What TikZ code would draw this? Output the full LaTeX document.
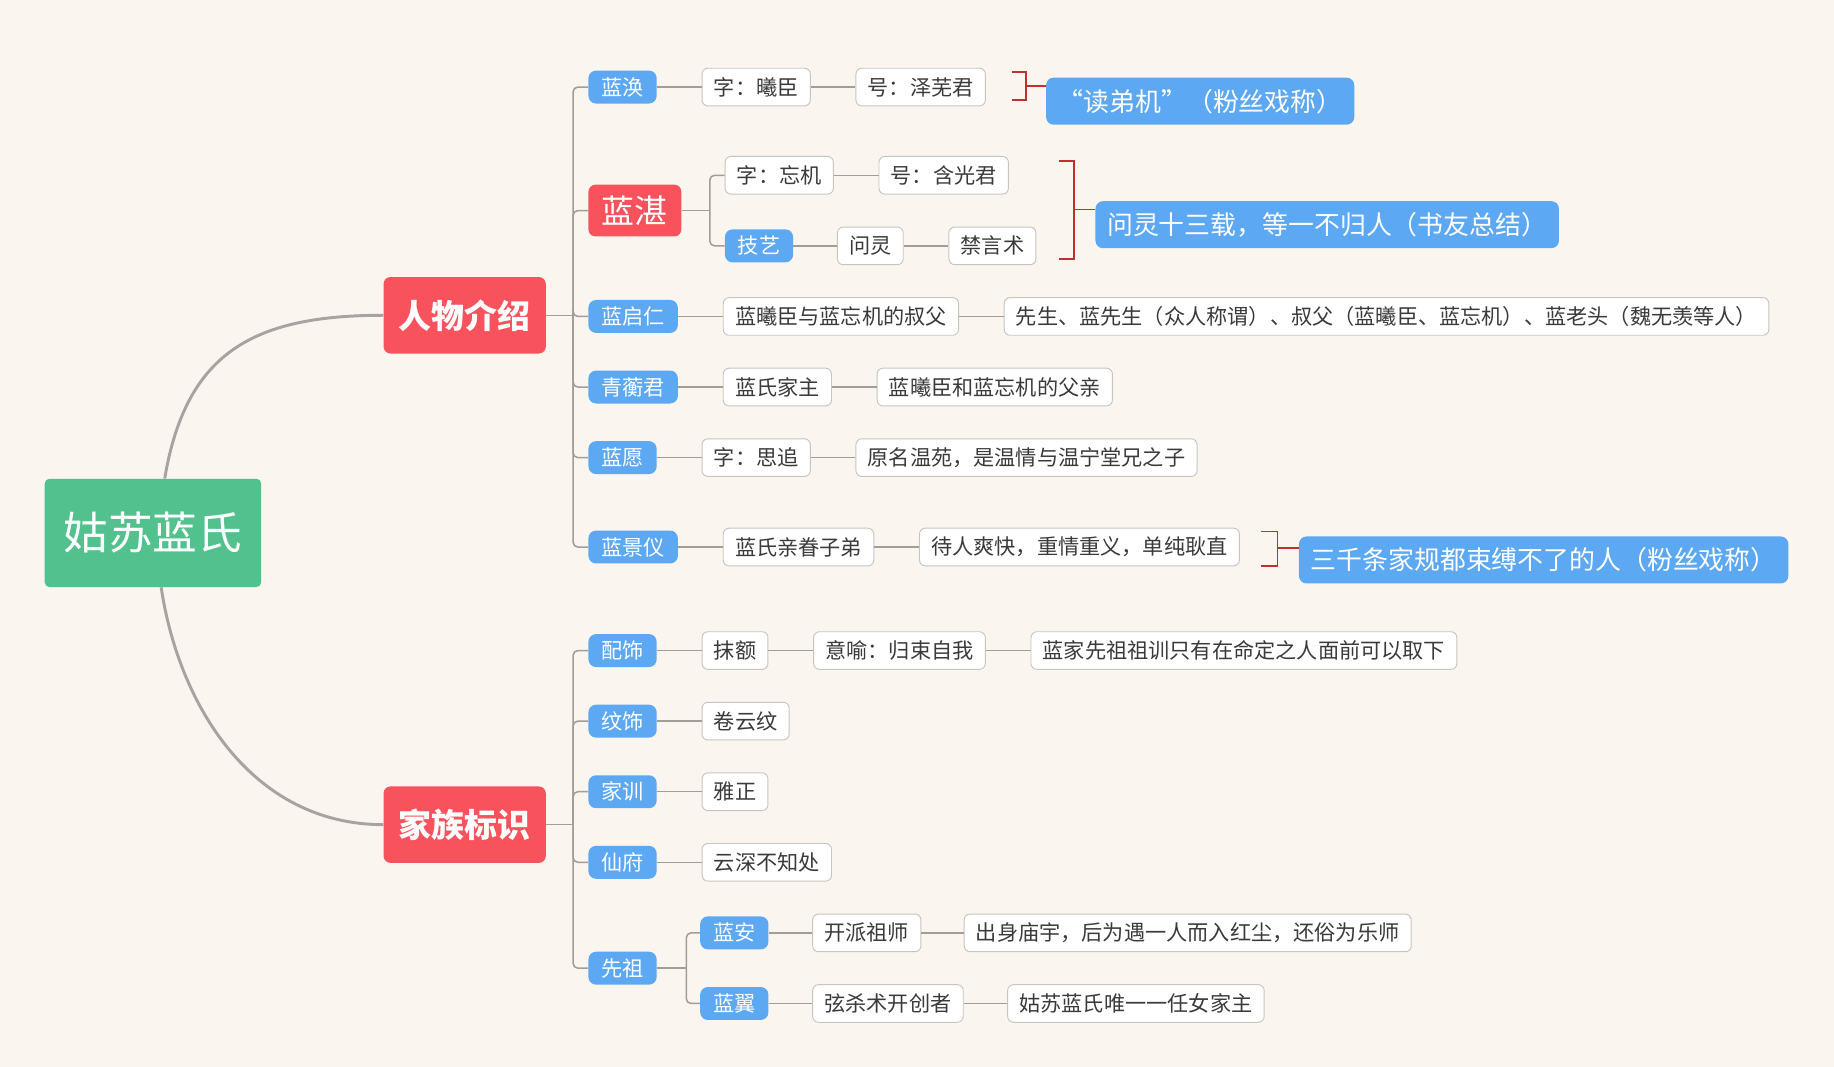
\documentclass[tikz,border=0pt]{standalone}
\usepackage{fontspec}
\setmainfont{Noto Sans CJK SC}
\usetikzlibrary{positioning,calc}
\definecolor{bg}{RGB}{251,245,240}
\definecolor{rootgreen}{RGB}{83,193,142}
\definecolor{topicred}{RGB}{248,82,92}
\definecolor{subblue}{RGB}{93,168,242}
\definecolor{leafline}{RGB}{201,196,191}
\definecolor{leaftext}{RGB}{58,58,58}
\definecolor{linkgray}{RGB}{163,157,152}
\definecolor{trunkgray}{RGB}{168,163,160}
\definecolor{bracketred}{RGB}{192,48,47}

\begin{document}
\begin{tikzpicture}[x=1pt,y=-1pt,node distance=38pt,
  root/.style={fill=rootgreen,text=white,rounded corners=4pt,minimum width=184pt,minimum height=92pt,inner sep=0pt,font=\fontsize{38}{40}\selectfont},
  topic/.style={fill=topicred,text=white,rounded corners=6pt,minimum width=138pt,minimum height=65pt,inner sep=0pt,font=\fontsize{28}{30}\selectfont\bfseries},
  bigsub/.style={fill=topicred,text=white,rounded corners=6pt,minimum height=44pt,inner xsep=11.5pt,inner ysep=0pt,font=\fontsize{28}{30}\selectfont},
  sub/.style={fill=subblue,text=white,rounded corners=6.5pt,minimum height=28pt,inner xsep=11pt,inner ysep=0pt,font=\fontsize{18}{20}\selectfont},
  leaf/.style={fill=white,draw=leafline,line width=0.8pt,text=leaftext,rounded corners=5pt,minimum height=32pt,inner xsep=10pt,inner ysep=0pt,font=\fontsize{18}{20}\selectfont},
  note/.style={fill=subblue,text=white,rounded corners=6.5pt,minimum height=40pt,inner xsep=10pt,inner ysep=0pt,font=\fontsize{22}{24}\selectfont},
  trunk/.style={draw=trunkgray,line width=2.5pt},
  link/.style={draw=linkgray,line width=1.3pt},
  branch/.style={link,rounded corners=4pt},
  summary/.style={draw=bracketred,line width=1.3pt}]

\useasboundingbox[fill=bg] (0,0) rectangle (1559,907);

\node[root] (root) at (130,453) {姑苏蓝氏};
\node[topic] (rw) at (395,268) {人物介绍};
\node[topic] (jz) at (395,701) {家族标识};

\draw[trunk] ([xshift=10pt]root.north) .. controls +(18,-107) and +(-111,0) .. (rw.west);
\draw[trunk] ([xshift=7pt]root.south) .. controls +(15,101) and +(-111,0) .. (jz.west);

\node[sub,anchor=west] (lh) at (500,74) {蓝涣};
\node[leaf,right=of lh] (lh1) {字：曦臣};
\node[leaf,right=of lh1] (lh2) {号：泽芜君};

\node[bigsub,anchor=west] (lz) at (500,179) {蓝湛};
\node[leaf,anchor=west] (lz1) at (616,149) {字：忘机};
\node[leaf,right=of lz1] (lz2) {号：含光君};
\node[sub,anchor=west] (jy) at (616,209) {技艺};
\node[leaf,right=37pt of jy] (jy1) {问灵};
\node[leaf,right=of jy1] (jy2) {禁言术};

\node[sub,anchor=west] (lqr) at (500,269) {蓝启仁};
\node[leaf,right=of lqr] (lqr1) {蓝曦臣与蓝忘机的叔父};
\node[leaf,right=of lqr1] (lqr2) {先生、蓝先生（众人称谓）、叔父（蓝曦臣、蓝忘机）、蓝老头（魏无羡等人）};

\node[sub,anchor=west] (qhj) at (500,329) {青蘅君};
\node[leaf,right=of qhj] (qhj1) {蓝氏家主};
\node[leaf,right=of qhj1] (qhj2) {蓝曦臣和蓝忘机的父亲};

\node[sub,anchor=west] (ly) at (500,389) {蓝愿};
\node[leaf,right=of ly] (ly1) {字：思追};
\node[leaf,right=of ly1] (ly2) {原名温苑，是温情与温宁堂兄之子};

\node[sub,anchor=west] (ljy) at (500,465) {蓝景仪};
\node[leaf,right=of ljy] (ljy1) {蓝氏亲眷子弟};
\node[leaf,right=of ljy1] (ljy2) {待人爽快，重情重义，单纯耿直};

\node[note,anchor=west] (n1) at (889,86) {“读弟机”（粉丝戏称）};
\node[note,anchor=west] (n2) at (931,191) {问灵十三载，等一不归人（书友总结）};
\node[note,anchor=west] (n3) at (1104,476) {三千条家规都束缚不了的人（粉丝戏称）};

\node[sub,anchor=west] (ps) at (500,553) {配饰};
\node[leaf,right=of ps] (ps1) {抹额};
\node[leaf,right=of ps1] (ps2) {意喻：归束自我};
\node[leaf,right=of ps2] (ps3) {蓝家先祖祖训只有在命定之人面前可以取下};
\node[sub,anchor=west] (ws) at (500,613) {纹饰};
\node[leaf,right=of ws] (ws1) {卷云纹};
\node[sub,anchor=west] (jx) at (500,673) {家训};
\node[leaf,right=of jx] (jx1) {雅正};
\node[sub,anchor=west] (xf) at (500,733) {仙府};
\node[leaf,right=of xf] (xf1) {云深不知处};
\node[sub,anchor=west] (xz) at (500,823) {先祖};
\node[sub,anchor=west] (la) at (595,793) {蓝安};
\node[leaf,right=37pt of la] (la1) {开派祖师};
\node[leaf,right=36pt of la1] (la2) {出身庙宇，后为遇一人而入红尘，还俗为乐师};
\node[sub,anchor=west] (lyi) at (595,853) {蓝翼};
\node[leaf,right=37pt of lyi] (lyi1) {弦杀术开创者};
\node[leaf,right=37pt of lyi1] (lyi2) {姑苏蓝氏唯一一任女家主};

\coordinate (j1) at ($(rw.east)+(23,0)$);
\coordinate (j2) at ($(jz.east)+(23,0)$);
\coordinate (j3) at ($(lz.east)+(24,0)$);
\coordinate (j4) at ($(xz.east)+(25,0)$);
\draw[link] (rw.east) -- (j1);
\draw[link] (jz.east) -- (j2);
\draw[link] (lz.east) -- (j3);
\draw[link] (xz.east) -- (j4);
\foreach \c in {lh,lz,lqr,qhj,ly,ljy} \draw[branch] (j1) |- (\c.west);
\foreach \c in {ps,ws,jx,xf,xz} \draw[branch] (j2) |- (\c.west);
\foreach \c in {lz1,jy} \draw[branch] (j3) |- (\c.west);
\foreach \c in {la,lyi} \draw[branch] (j4) |- (\c.west);

\foreach \a/\b in {lh/lh1,lh1/lh2,lz1/lz2,jy/jy1,jy1/jy2,lqr/lqr1,lqr1/lqr2,qhj/qhj1,qhj1/qhj2,ly/ly1,ly1/ly2,ljy/ljy1,ljy1/ljy2,ps/ps1,ps1/ps2,ps2/ps3,ws/ws1,jx/jx1,xf/xf1,la/la1,la1/la2,lyi/lyi1,lyi1/lyi2}
  \draw[link] (\a) -- (\b);

\draw[summary] (860,61) -| (872,85) -- (860,85);
\coordinate (s1) at (872,73);
\draw[summary] (s1) -- (n1.west |- s1);
\draw[summary] (900,137) -| (913,220) -- (900,220);
\coordinate (s2) at (913,178);
\draw[summary] (s2) -- (n2.west |- s2);
\draw[summary] (1072,452) -| (1086,481) -- (1072,481);
\coordinate (s3) at (1086,466);
\draw[summary] (s3) -- (n3.west |- s3);

\end{tikzpicture}
\end{document}
